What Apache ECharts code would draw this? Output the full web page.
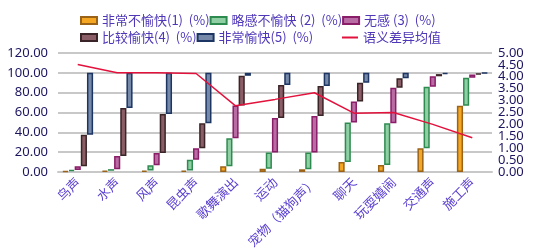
<!DOCTYPE html>
<html><head><meta charset="utf-8">
<script src="https://cdn.jsdelivr.net/npm/echarts@6/dist/echarts.min.js"></script>
<style>html,body{margin:0;padding:0;background:#fff}#c{width:538px;height:251px}</style>
</head><body><div id="c"></div>
<script>
const categories = ['鸟声','水声','风声','昆虫声','歌舞演出','运动','宠物（猫狗声）','聊天','玩耍嬉闹','交通声','施工声'];
const seriesNames = ['非常不愉快(1)  (%)','略感不愉快 (2)  (%)','无感 (3)  (%)','比较愉快(4)  (%)','非常愉快(5)  (%)'];
const lineName = '语义差异均值';
const level1 = [1.0, 1.2, 1.5, 1.5, 5.7, 3.2, 2.7, 10.0, 7.0, 23.8, 66.7];
const level2 = [1.0, 1.6, 5.2, 10.9, 28.3, 16.5, 16.8, 40.0, 42.0, 62.2, 28.3];
const level3 = [3.7, 13.2, 12.3, 11.6, 33.0, 34.8, 37.0, 21.0, 36.0, 10.5, 3.4];
const level4 = [31.8, 48.5, 39.5, 25.0, 30.0, 33.1, 30.3, 19.0, 9.6, 2.2, 1.0];
const level5 = [62.5, 35.5, 41.5, 51.0, 3.0, 12.4, 13.2, 10.0, 5.4, 1.3, 0.6];
const meanValues = [4.52, 4.17, 4.17, 4.14, 2.78, 3.05, 3.33, 2.47, 2.50, 2.00, 1.44];
const leftTicks = {min: 0, max: 120, interval: 20};
const rightTicksWhole = [0, 1, 2, 3, 4, 5];
const rightTicksHalf = [0.5, 1.5, 2.5, 3.5, 4.5];

const levels = [level1, level2, level3, level4, level5];
const fills = ['#f5a623', '#8fcfa3', '#b96ba3', '#8b5d66', '#7689a8'];
const borders = ['#9a6317', '#2e8b50', '#8a1d68', '#3a2427', '#1c3563'];

const series = [];
const cum = categories.map(() => 0);
levels.forEach((lv, k) => {
  const base = cum.slice();
  series.push({
    type: 'bar', stack: 'g' + k, data: base, silent: true,
    itemStyle: {color: 'transparent', borderWidth: 0},
    barGap: '0%', barCategoryGap: '22%', emphasis: {disabled: true}
  });
  series.push({
    name: seriesNames[k], type: 'bar', stack: 'g' + k, data: lv,
    itemStyle: {color: fills[k], borderColor: borders[k], borderWidth: 1.5},
    barGap: '0%', barCategoryGap: '22%'
  });
  lv.forEach((v, i) => { cum[i] += v; });
});
series.push({
  name: lineName, type: 'line', yAxisIndex: 1, data: meanValues,
  symbol: 'none', lineStyle: {color: '#e3123c', width: 1.5}, itemStyle: {color: '#e3123c'}
});

const legendText = {color: '#4f37b8', fontSize: 13, fontFamily: 'Noto Sans CJK SC', width: 110, overflow: 'none'};
const rightLabel = {color: '#1b1560', fontSize: 13, fontFamily: 'Noto Sans', margin: 6, formatter: v => v.toFixed(2), showMinLabel: true, showMaxLabel: true};
const chart = echarts.init(document.getElementById('c'), null, {renderer: 'canvas'});
chart.setOption({
  animation: false,
  backgroundColor: '#fff',
  grid: {left: 58, right: 46, top: 53, bottom: 72},
  legend: [
    {data: seriesNames.slice(0, 3), left: 75, top: 9, itemWidth: 16, itemHeight: 7, itemGap: 0, icon: 'rect', textStyle: legendText, selectedMode: false},
    {data: [seriesNames[3], seriesNames[4]], left: 75, top: 26, itemWidth: 16, itemHeight: 7, itemGap: 0, icon: 'rect', textStyle: legendText, selectedMode: false},
    {data: [lineName], left: 337, top: 26, itemWidth: 16, itemHeight: 2, itemGap: 0, icon: 'rect', textStyle: legendText, selectedMode: false}
  ],
  xAxis: {
    type: 'category', data: categories,
    axisLine: {lineStyle: {color: '#c8c8c8', width: 2}},
    axisTick: {show: false},
    axisLabel: {rotate: 45, color: '#5b3fd0', fontSize: 13, fontFamily: 'Noto Sans CJK SC', interval: 0, margin: 8}
  },
  yAxis: [
    {type: 'value', min: leftTicks.min, max: leftTicks.max, interval: leftTicks.interval,
     axisLine: {show: false}, axisTick: {show: false},
     splitLine: {lineStyle: {color: '#c8c8c8', width: 2}},
     axisLabel: {color: '#1b1560', fontSize: 13, fontFamily: 'Noto Sans', formatter: v => v.toFixed(2), margin: 10, showMinLabel: true, showMaxLabel: true}},
    {type: 'value', position: 'right', min: 0, max: 5, interval: 1,
     axisLine: {show: false}, axisTick: {show: false}, splitLine: {show: false},
     axisLabel: Object.assign({customValues: rightTicksWhole}, rightLabel)},
    {type: 'value', position: 'right', offset: 0, min: 0, max: 5, interval: 0.5,
     axisLine: {show: false}, axisTick: {show: false}, splitLine: {show: false},
     axisLabel: Object.assign({customValues: rightTicksHalf}, rightLabel)}
  ],
  series: series
});
</script></body></html>
